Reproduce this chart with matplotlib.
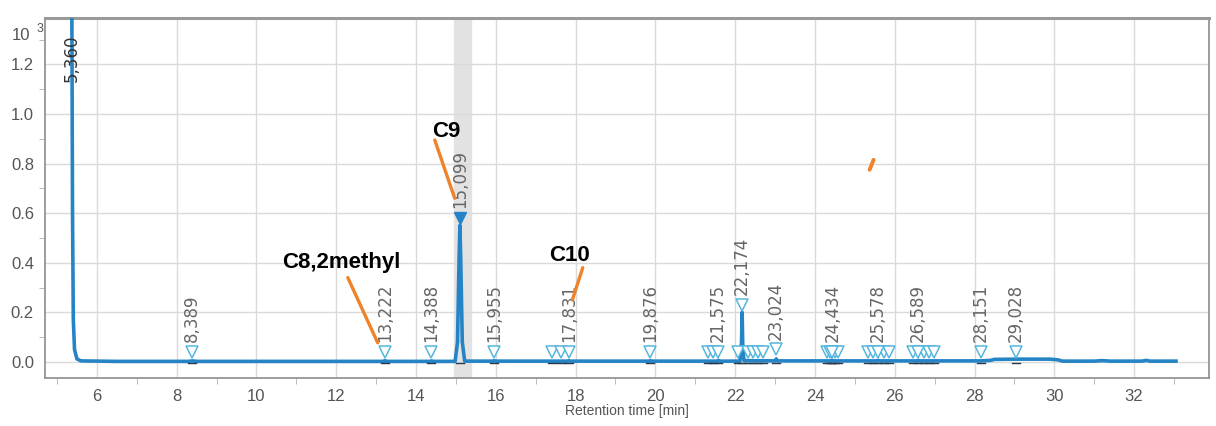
import matplotlib

matplotlib.use("Agg")
import matplotlib.pyplot as plt
from matplotlib import font_manager
from matplotlib.ticker import MultipleLocator

# chromatogram trace, signal in units of 10^3
trace_time = [
    5.31, 5.37, 5.39, 5.41, 5.44, 5.50, 5.60, 6.50, 8.30, 8.39, 8.50,
    13.18, 13.22, 13.27, 14.35, 14.39, 14.43, 14.98, 15.04, 15.08, 15.10,
    15.12, 15.16, 15.22, 15.93, 15.96, 16.00, 17.80, 17.83, 17.87, 19.85,
    19.88, 19.92, 21.55, 21.58, 21.62, 22.12, 22.16, 22.175, 22.19, 22.22,
    23.00, 23.03, 23.06, 24.40, 24.43, 24.47, 25.55, 25.58, 25.62, 26.56,
    26.59, 26.63, 28.15, 28.40, 28.50, 29.03, 29.90, 30.10, 30.20, 31.00,
    31.20, 31.40, 32.20, 32.30, 32.40, 33.05,
]
trace_signal = [
    1.60, 1.60, 0.60, 0.17, 0.05, 0.012, 0.004, 0.002, 0.002, 0.004, 0.002,
    0.002, 0.005, 0.002, 0.002, 0.004, 0.002, 0.002, 0.08, 0.42, 0.55,
    0.42, 0.08, 0.003, 0.003, 0.005, 0.003, 0.003, 0.005, 0.003, 0.003,
    0.005, 0.003, 0.003, 0.006, 0.003, 0.003, 0.08, 0.20, 0.07, 0.005,
    0.004, 0.012, 0.004, 0.004, 0.007, 0.004, 0.004, 0.006, 0.004, 0.004,
    0.006, 0.004, 0.004, 0.006, 0.010, 0.011, 0.011, 0.008, 0.003, 0.003,
    0.005, 0.003, 0.003, 0.006, 0.003, 0.003,
]

# labelled peaks (retention time, label, marker height)
peak_rt = [8.389, 13.222, 14.388, 15.955, 17.831, 19.876, 21.575, 22.174,
           23.024, 24.434, 25.578, 26.589, 28.151, 29.028]
peak_labels = ["8,389", "13,222", "14,388", "15,955", "17,831", "19,876",
               "21,575", "22,174", "23,024", "24,434", "25,578", "26,589",
               "28,151", "29,028"]
peak_marker_y = [0.04, 0.04, 0.04, 0.04, 0.04, 0.04, 0.04, 0.23,
                 0.05, 0.04, 0.04, 0.04, 0.04, 0.04]

# selected peak
main_rt = 15.099
main_label = "15,099"
main_marker_y = 0.58

# solvent peak label
solvent_rt = 5.36
solvent_label = "5,360"

# unlabelled detected peaks
minor_rt = [17.40, 17.63, 21.33, 21.45, 22.07, 22.32, 22.45, 22.57, 22.70,
            24.30, 24.37, 24.50, 24.58, 25.32, 25.45, 25.72, 25.85, 26.45,
            26.74, 26.86, 26.98]
minor_marker_y = [0.04] * len(minor_rt)

# compound annotations: label text, label position, pointer segment
compounds = ["C8,2methyl", "C9", "C10"]
compound_xy = [(12.14, 0.40), (14.77, 0.93), (17.85, 0.43)]
pointer_x = [(12.29, 13.04), (14.47, 14.97), (18.18, 17.92)]
pointer_y = [(0.34, 0.077), (0.895, 0.66), (0.38, 0.25)]
stray_x = [25.47, 25.37]
stray_y = [0.815, 0.775]

BLUE = "#2584c6"
MARKER_EDGE = "#55b6dd"
ORANGE = "#f0822a"
GRID = "#dadada"
TEXT_GREY = "#555555"

names = {f.name for f in font_manager.fontManager.ttflist}
NARROW = "Liberation Sans Narrow" if "Liberation Sans Narrow" in names else "Liberation Sans"


def main() -> None:
    fig = plt.figure(figsize=(12.16, 4.26), dpi=100)
    ax = fig.add_axes([0.037, 0.1127, 0.957, 0.845])

    ax.axvspan(14.95, 15.37, color="#e2e2e2", zorder=0)
    ax.plot(trace_time, trace_signal, color=BLUE, linewidth=2.6,
            solid_joinstyle="round", zorder=3)

    # integration baselines under the detected peaks
    for rt in peak_rt + minor_rt + [main_rt]:
        ax.plot([rt - 0.1, rt + 0.1], [-0.004, -0.004], color="#26394d",
                linewidth=1.0, zorder=4)

    ax.plot(minor_rt, minor_marker_y, linestyle="none", marker="v",
            markersize=9, markerfacecolor="white", markeredgecolor=MARKER_EDGE,
            markeredgewidth=1.1, zorder=5)
    ax.plot(peak_rt, peak_marker_y, linestyle="none", marker="v",
            markersize=9, markerfacecolor="white", markeredgecolor=MARKER_EDGE,
            markeredgewidth=1.1, zorder=6)
    ax.plot([main_rt], [main_marker_y], linestyle="none", marker="v",
            markersize=9, color=BLUE, zorder=6)

    for rt, label, y in zip(peak_rt, peak_labels, peak_marker_y):
        ax.annotate(label, (rt, y), xytext=(0, 7), textcoords="offset points",
                    rotation=90, ha="center", va="bottom", fontsize=12,
                    color="#666666", zorder=7)
    ax.annotate(main_label, (main_rt, main_marker_y), xytext=(0, 7),
                textcoords="offset points", rotation=90, ha="center",
                va="bottom", fontsize=12, color="#666666", zorder=7)
    ax.text(solvent_rt, 1.13, solvent_label, rotation=90, ha="center",
            va="bottom", fontsize=12, color="#333333", zorder=7)

    for name, (x, y) in zip(compounds, compound_xy):
        ax.text(x, y, name, ha="center", va="center", fontsize=16,
                fontweight="bold", family=NARROW, color="black", zorder=8)
    for xs, ys in zip(pointer_x, pointer_y):
        ax.plot(xs, ys, color=ORANGE, linewidth=2.4, solid_capstyle="round",
                zorder=8)
    ax.plot(stray_x, stray_y, color=ORANGE, linewidth=2.8,
            solid_capstyle="round", zorder=8)

    ax.set_xlim(4.70, 33.87)
    ax.set_ylim(-0.065, 1.387)
    ax.xaxis.set_major_locator(MultipleLocator(2))
    ax.xaxis.set_minor_locator(MultipleLocator(1))
    ax.yaxis.set_major_locator(MultipleLocator(0.2))
    ax.yaxis.set_minor_locator(MultipleLocator(0.1))
    ax.grid(True, which="major", color=GRID, linewidth=1.0, zorder=0)
    ax.set_axisbelow(True)

    ax.tick_params(which="major", length=0, pad=8, labelsize=12,
                   labelcolor=TEXT_GREY)
    ax.tick_params(which="minor", length=4, color="#b0b0b0")
    for label in ax.get_xticklabels() + ax.get_yticklabels():
        label.set_family(NARROW)
    ax.yaxis.set_major_formatter(plt.FuncFormatter(lambda v, _: f"{v:.1f}"))

    for side in ("left", "bottom", "right"):
        ax.spines[side].set_color("#8c8c8c")
        ax.spines[side].set_linewidth(1.2)
    ax.spines["top"].set_color("#9a9a9a")
    ax.spines["top"].set_linewidth(2.2)

    ax.set_xlabel("Retention time [min]", fontsize=10, family=NARROW,
                  color=TEXT_GREY, labelpad=0)
    fig.text(0.010, 0.905, "10", fontsize=12, family=NARROW, color=TEXT_GREY)
    fig.text(0.030, 0.925, "3", fontsize=9, family=NARROW, color=TEXT_GREY)

    fig.savefig("out.png", dpi=100)
    plt.close(fig)


if __name__ == "__main__":
    main()
